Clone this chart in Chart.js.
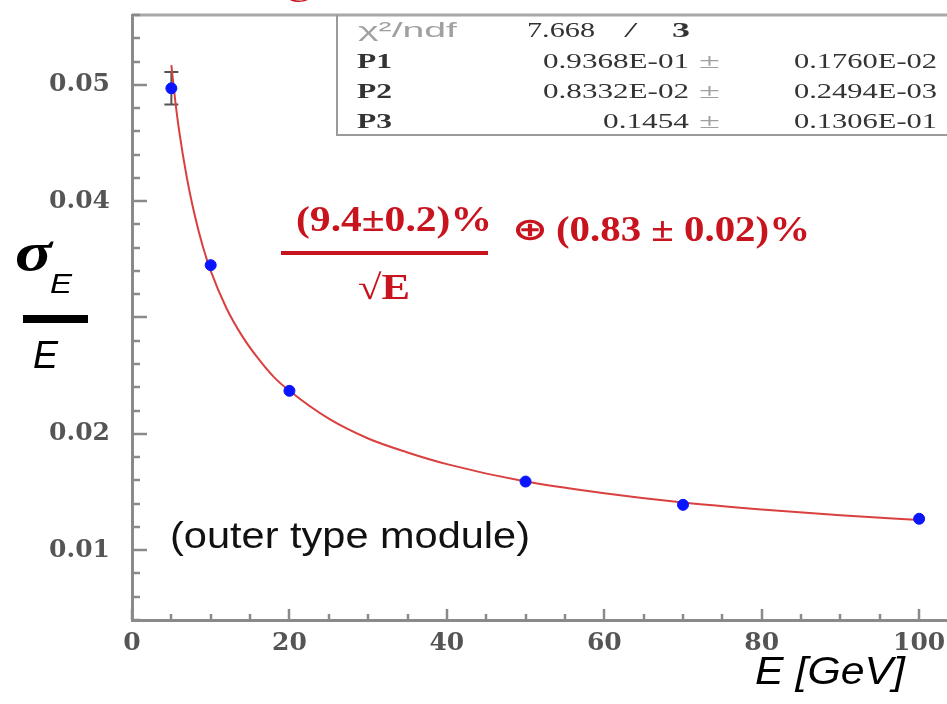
<!DOCTYPE html>
<html>
<head>
<meta charset="utf-8">
<script src="https://cdn.jsdelivr.net/npm/chart.js@4"></script>
<style>
  html, body { margin: 0; padding: 0; background: #fff; overflow: hidden; }
  #wrap { width: 965px; height: 704px; }
</style>
</head>
<body>
<div id="wrap"><canvas id="grafico" width="965" height="704"></canvas></div>
<script>
// Dados
const xTicks = [0, 20, 40, 60, 80, 100];
const yTicks = [0.01, 0.02, 0.03, 0.04, 0.05];
const yTickLabels = ['0.01', '0.02', '', '0.04', '0.05'];

const energias = [5, 10, 20, 50, 70, 100];
const resolucao = [0.0497, 0.0345, 0.0237, 0.0159, 0.0139, 0.0127];
const resolucaoErr = [0.0014, 0.0003, 0.0002, 0.0001, 0.0001, 0.0001];

// curva do ajuste (lida ao longo da linha vermelha)
const ajusteE = [5, 5.5, 6, 7, 8, 9, 10, 12, 14, 16, 18, 20, 25, 30, 35, 40, 50, 60, 70, 80, 90, 100];
const ajusteSigma = [0.0517, 0.0486, 0.0460, 0.0419, 0.0387, 0.0361, 0.0340, 0.0308, 0.0284, 0.0265, 0.0249,
                     0.0237, 0.0213, 0.0196, 0.0184, 0.0174, 0.0159, 0.0149, 0.0141, 0.0135, 0.0130, 0.0126];

// caixa de estatísticas
const chi2 = '7.668';
const ndf = '3';
const parNomes = ['P1', 'P2', 'P3'];
const parValores = ['0.9368E-01', '0.8332E-02', '0.1454'];
const parErros = ['0.1760E-02', '0.2494E-03', '0.1306E-01'];

const corEixo = '#8a8a8a';
const vermelho = '#c8141e';

// escreve texto esticado na horizontal até a largura pedida
function texto(ctx, str, x, y, fonte, cor, largura, alinhar) {
    ctx.save();
    ctx.font = fonte;
    ctx.fillStyle = cor;
    ctx.textBaseline = 'alphabetic';
    const w = ctx.measureText(str).width;
    const sx = largura ? largura / w : 1;
    let esq = x;
    if (alinhar === 'right') esq = x - w * sx;
    if (alinhar === 'center') esq = x - w * sx / 2;
    ctx.translate(esq, y);
    ctx.scale(sx, 1);
    ctx.fillText(str, 0, 0);
    ctx.restore();
}

// barras de erro (as pequenas ficam escondidas pelo ponto)
const barrasErro = {
    id: 'barrasErro',
    beforeDatasetsDraw(chart) {
        const ctx = chart.ctx;
        const xs = chart.scales.x, ys = chart.scales.y;
        ctx.save();
        ctx.strokeStyle = '#555';
        ctx.lineWidth = 2;
        energias.forEach((e, i) => {
            const px = xs.getPixelForValue(e);
            const y1 = ys.getPixelForValue(resolucao[i] + resolucaoErr[i]);
            const y2 = ys.getPixelForValue(resolucao[i] - resolucaoErr[i]);
            if (y2 - y1 < 12) return;
            ctx.beginPath();
            ctx.moveTo(px, y1); ctx.lineTo(px, y2);
            ctx.moveTo(px - 7, y1); ctx.lineTo(px + 7, y1);
            ctx.moveTo(px - 7, y2); ctx.lineTo(px + 7, y2);
            ctx.stroke();
        });
        ctx.restore();
    }
};

// moldura, marcas internas, caixa e anotações
const moldura = {
    id: 'moldura',
    afterDraw(chart) {
        const ctx = chart.ctx;
        const xs = chart.scales.x, ys = chart.scales.y;
        const a = chart.chartArea;
        ctx.save();

        // linha superior
        ctx.strokeStyle = '#a8a8a8';
        ctx.lineWidth = 3;
        ctx.beginPath();
        ctx.moveTo(a.left, a.top); ctx.lineTo(a.right, a.top);
        ctx.stroke();

        // marcas do eixo y (para dentro)
        ctx.strokeStyle = corEixo;
        ctx.lineWidth = 2.5;
        for (let v = ys.min; v <= ys.max + 1e-9; v += 0.002) {
            const py = Math.round(ys.getPixelForValue(v));
            const major = Math.abs(v * 100 - Math.round(v * 100)) < 1e-6;
            ctx.beginPath();
            ctx.moveTo(a.left, py); ctx.lineTo(a.left + (major ? 15 : 8), py);
            ctx.stroke();
        }
        // marcas do eixo x (para cima)
        for (let v = 0; v <= xs.max + 1e-9; v += 5) {
            const px = Math.round(xs.getPixelForValue(v));
            const major = v % 20 === 0;
            ctx.beginPath();
            ctx.moveTo(px, a.bottom); ctx.lineTo(px, a.bottom - (major ? 11 : 6));
            ctx.stroke();
        }

        // caixa de estatísticas
        ctx.fillStyle = '#fff';
        ctx.fillRect(337, a.top + 2, 700, 135 - a.top - 2);
        ctx.strokeStyle = '#9a9a9a';
        ctx.lineWidth = 2;
        ctx.beginPath();
        ctx.moveTo(337, a.top); ctx.lineTo(337, 135); ctx.lineTo(1000, 135);
        ctx.stroke();

        const fs = '21px "Liberation Serif"';
        const fb = 'bold 21px "Liberation Serif"';
        texto(ctx, 'χ²/ndf', 358, 37, '20px "Liberation Sans"', '#a0a0a0', 99);
        texto(ctx, chi2, 527, 37, fs, '#333', 68);
        texto(ctx, '/', 626, 37, 'italic ' + fb, '#333', 9);
        texto(ctx, ndf, 672, 37, fb, '#333', 18);
        const base = [68, 98, 128];
        parNomes.forEach((n, i) => {
            texto(ctx, n, 357, base[i], fb, '#333', 35);
            texto(ctx, parValores[i], 689, base[i], fs, '#333', parValores[i].length > 6 ? 146 : 86, 'right');
            texto(ctx, '±', 699, base[i], fs, '#a0a0a0', 21);
            texto(ctx, parErros[i], 937, base[i], fs, '#333', 143, 'right');
        });

        // texto vermelho cortado no topo
        texto(ctx, '@', 283, -4, 'bold 30px "Liberation Serif"', vermelho, 34);

        // fórmula da resolução
        const fr = 'bold 35px "Liberation Serif"';
        texto(ctx, '(9.4±0.2)%', 296, 231, fr, vermelho, 196);
        ctx.fillStyle = vermelho;
        ctx.fillRect(281, 251, 207, 4);
        texto(ctx, '√E', 358, 299, fr, vermelho, 52);
        texto(ctx, '⊕', 512, 240, 'bold 32px "DejaVu Sans"', vermelho, 36);
        texto(ctx, '(0.83 ± 0.02)%', 556, 241, fr, vermelho, 254);

        // título do eixo y: sigma_E / E
        texto(ctx, 'σ', 15, 270, 'bold italic 54px "Liberation Serif"', '#000', 37);
        texto(ctx, 'E', 50, 293, 'italic 28px "Liberation Sans"', '#000', 22);
        ctx.fillStyle = '#000';
        ctx.fillRect(23, 315, 65, 8);
        texto(ctx, 'E', 33, 368, 'italic 38px "Liberation Sans"', '#000', 25);

        // título do eixo x
        texto(ctx, 'E [GeV]', 755, 684, 'italic 38px "Liberation Sans"', '#000', 150);

        // rótulo do módulo
        texto(ctx, '(outer type module)', 170, 548, '36px "Liberation Sans"', '#111', 360);

        ctx.restore();
    }
};

const ctx = document.getElementById('grafico').getContext('2d');
new Chart(ctx, {
    type: 'scatter',
    data: {
        datasets: [{
            label: 'dados',
            data: energias.map((e, i) => ({ x: e, y: resolucao[i] })),
            backgroundColor: '#0a14ff',
            borderColor: '#0a14ff',
            pointRadius: 5.5,
            pointStyle: 'circle',
            order: 0
        }, {
            label: 'ajuste',
            type: 'line',
            data: ajusteE.map((e, i) => ({ x: e, y: ajusteSigma[i] })),
            borderColor: '#d9403f',
            borderWidth: 2,
            pointRadius: 0,
            fill: false,
            cubicInterpolationMode: 'monotone',
            order: 1
        }]
    },
    options: {
        responsive: false,
        animation: false,
        layout: { padding: { top: 15, right: 5.6, left: 0, bottom: 0 } },
        plugins: {
            legend: { display: false },
            tooltip: { enabled: false }
        },
        scales: {
            x: {
                type: 'linear',
                min: 0,
                max: 105,
                afterBuildTicks: s => { s.ticks = xTicks.map(v => ({ value: v })); },
                afterFit: s => { s.height = 84; s.paddingLeft = 0; s.paddingRight = 0; },
                grid: { display: false, drawTicks: false },
                border: { display: true, color: corEixo, width: 3 },
                ticks: {
                    padding: 8,
                    maxRotation: 0,
                    color: '#555',
                    font: { family: 'DejaVu Serif', weight: 'bold', size: 25 },
                    callback: v => String(v)
                }
            },
            y: {
                type: 'linear',
                min: 0.004,
                max: 0.056,
                afterBuildTicks: s => { s.ticks = yTicks.map(v => ({ value: v })); },
                afterFit: s => { s.width = 132; s.paddingTop = 0; s.paddingBottom = 0; },
                grid: { display: false, drawTicks: false },
                border: { display: true, color: corEixo, width: 3 },
                ticks: {
                    padding: 22,
                    color: '#555',
                    font: { family: 'DejaVu Serif', weight: 'bold', size: 25 },
                    callback: (v, i) => yTickLabels[i]
                }
            }
        }
    },
    plugins: [barrasErro, moldura]
});
</script>
</body>
</html>
